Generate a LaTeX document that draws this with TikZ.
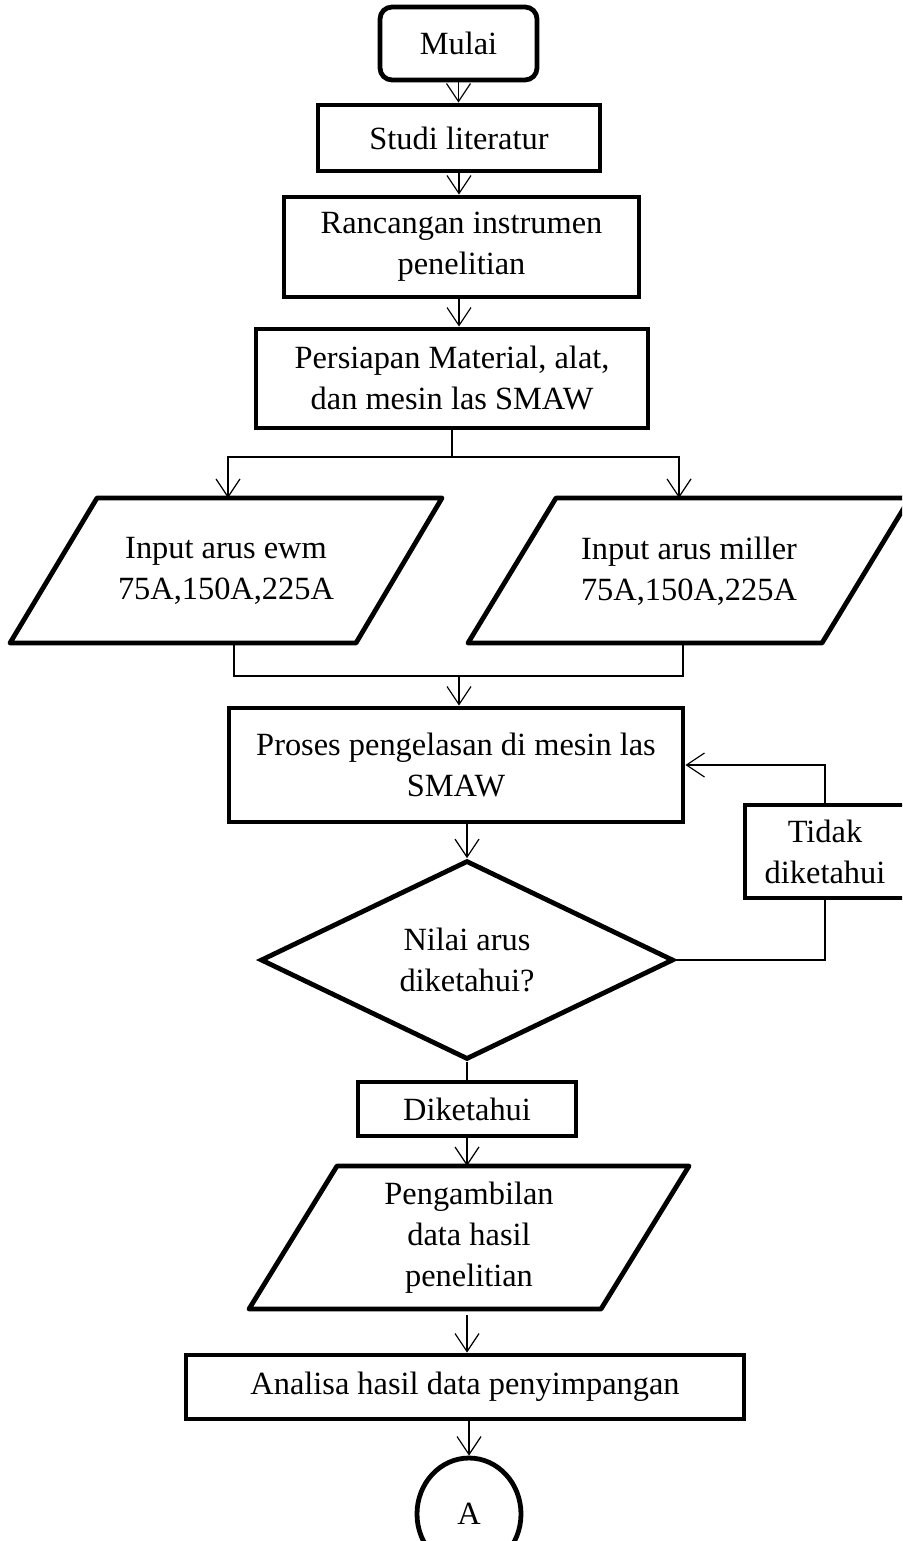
\documentclass[tikz,border=0pt]{standalone}
\usepackage{fontspec}
\setmainfont{Liberation Serif}
\usetikzlibrary{shapes.geometric,arrows.meta}
\begin{document}
\begin{tikzpicture}[x=0.5pt,y=-0.5pt,
  every node/.style={font=\fontsize{16.2}{20.5}\selectfont, align=center, inner sep=0pt},
  boxnode/.style={draw, line width=2.4pt, rectangle},
  shapeline/.style={draw, line width=2.4pt, line join=round},
  conn/.style={line width=0.6pt},
  arr/.style={conn, -{Straight Barb[length=9pt,width=12pt]}}
]
\useasboundingbox (0,0) rectangle (902,1541);
\clip (0,0) rectangle (902,1541);

\node[boxnode, rounded corners=6pt, minimum width=78.5pt, minimum height=36.5pt] (mulai) at (458.5,43.5) {Mulai};
\node[boxnode, minimum width=141pt, minimum height=33pt] (studi) at (459,138) {Studi literatur};
\node[boxnode, minimum width=177.5pt, minimum height=50pt] (ranc) at (461.5,247) {Rancangan instrumen\\penelitian};
\node[boxnode, minimum width=196pt, minimum height=49.5pt] (pers) at (452,378.5) {Persiapan Material, alat,\\dan mesin las SMAW};

% input parallelograms
\draw[shapeline] (97,498) -- (442,498) -- (356,643) -- (10,643) -- cycle;
\node (inl) at (226,571) {Input arus ewm\\75A,150A,225A};
\coordinate (inlT) at (228,498);
\coordinate (inlB) at (234,643);
\draw[shapeline] (556,498) -- (910,498) -- (822,643) -- (468,643) -- cycle;
\node (inr) at (689,571) {Input arus miller\\75A,150A,225A};
\coordinate (inrT) at (679,498);
\coordinate (inrB) at (683,643);

\node[boxnode, minimum width=227pt, minimum height=57pt] (proses) at (456,765) {Proses pengelasan di mesin las\\SMAW};
\node[diamond, draw, line width=2.4pt, minimum width=206.5pt, minimum height=95pt] (dia) at (467,960) {Nilai arus\\diketahui?};
\node[boxnode, minimum width=80pt, minimum height=46.5pt] (tidak) at (825,851.5) {Tidak\\diketahui};
\node[boxnode, minimum width=109pt, minimum height=27pt] (dik) at (467,1109) {Diketahui};

\draw[shapeline] (337,1166) -- (689,1166) -- (601,1309) -- (249,1309) -- cycle;
\node (ambil) at (469,1238) {Pengambilan\\data hasil\\penelitian};
\coordinate (ambT) at (467,1166);
\coordinate (ambB) at (467,1315);

\node[boxnode, minimum width=279pt, minimum height=32pt] (anal) at (465,1387) {Analisa hasil data penyimpangan};
\node[ellipse, draw, line width=2.4pt, minimum width=52pt, minimum height=56pt] (A) at (469,1514) {A};

% connectors
\draw[arr] (mulai.south) -- (mulai.south |- studi.north);
\draw[arr] (studi.south) -- (studi.south |- ranc.north);
\draw[arr] (ranc.south -| studi.south) -- (pers.north -| studi.south);
\coordinate (split) at (452,457);
\draw[conn] (pers.south) -- (split);
\draw[arr] (split) -| (inlT);
\draw[arr] (split) -| (inrT);
\coordinate (merge) at (459,676);
\draw[conn] (inlB) |- (merge);
\draw[conn] (inrB) |- (merge);
\draw[arr] (merge) -- (merge |- proses.north);
\draw[arr] (proses.south -| dia.north) -- (dia.north);
\draw[arr] (tidak.north) |- (proses.east);
\draw[conn] (tidak.south) |- (dia.east);
\draw[conn] (dia.south) -- (dik.north);
\draw[arr] (dik.south) -- (ambT);
\draw[arr] (ambB) -- (ambB |- anal.north);
\draw[arr] (anal.south -| A.north) -- (A.north);
\end{tikzpicture}
\end{document}
